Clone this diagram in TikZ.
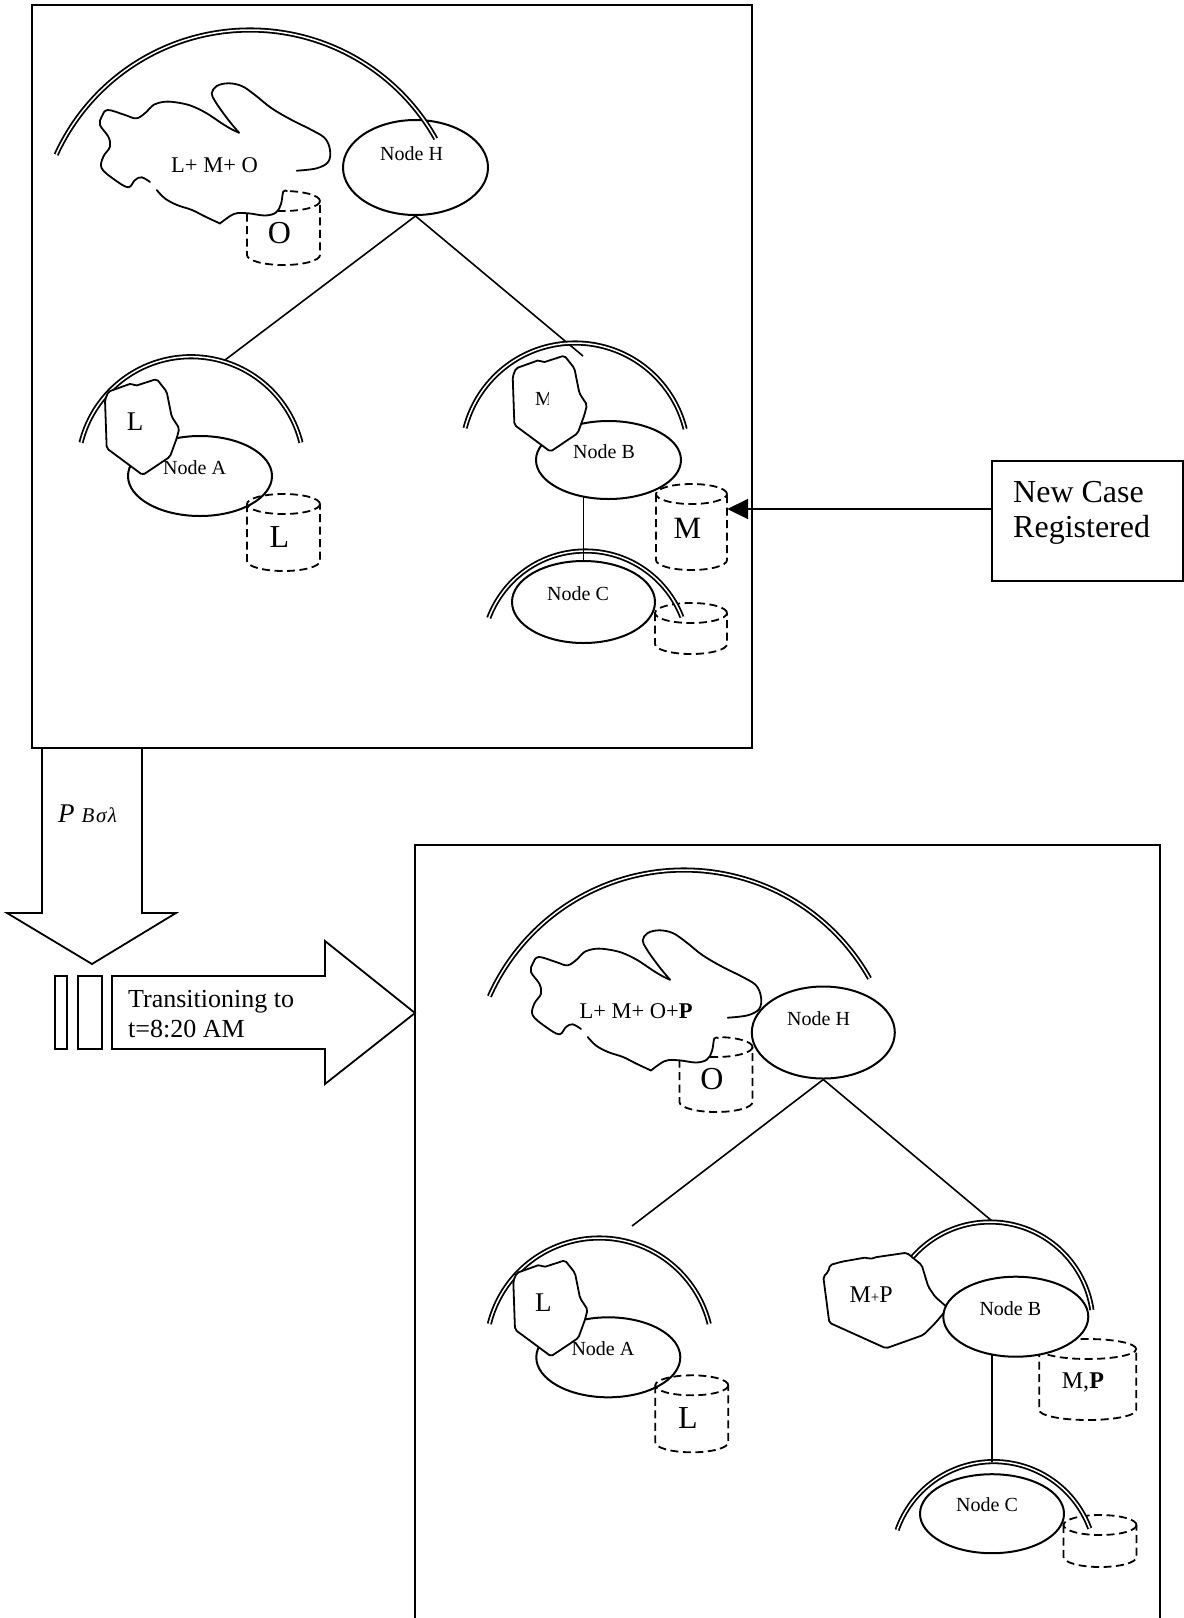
\documentclass[tikz,border=0pt]{standalone}
\usepackage{fontspec}
\setmainfont{Liberation Serif}
\usetikzlibrary{shapes.geometric,arrows.meta}

\tikzset{
  panel/.style={line width=2pt},
  hood/.style={double, line width=1.8pt, double distance=1.5pt},
  tree/.style={line width=1.6pt},
  member/.style={ellipse, draw, fill=white, line width=2pt, inner sep=0pt},
  blob/.style={draw, fill=white, line width=1.8pt, line join=round, rounded corners=2pt},
  cloudline/.style={line width=1.8pt, line join=round, line cap=round},
  cylline/.style={line width=1.8pt, dash pattern=on 8pt off 4.5pt},
  cylbox/.style={inner sep=0pt, draw=none},
  nm/.style={font=\fontsize{20}{24}\selectfont, inner sep=0pt, anchor=base west},
  big/.style={font=\fontsize{32}{36}\selectfont, inner sep=0pt},
  txt/.style={inner sep=0pt, anchor=base west},
}

% double "hood" arc over a member group: centre x, centre y, radius, from, to
\newcommand\hoodarc[5]{\draw[hood] plot[domain=#4:#5, samples=100, variable=\t] ({#1+#3*cos(\t)},{#2-#3*sin(\t)});}

% dashed store cylinder: name, centre x, top y, width, height
\newcommand\dbcyl[5]{%
  \node[cylbox, minimum width=#4pt, minimum height=#5pt] (#1) at (#2,{#3+#5/2}) {};
  \draw[cylline] ({#2-#4/2},{#3+10}) -- ({#2-#4/2},{#3+#5-10})
     arc[start angle=180, end angle=360, x radius=#4*0.5pt, y radius=10pt] -- ({#2+#4/2},{#3+10});
  \draw[cylline] (#2,{#3+10}) ellipse[x radius=#4*0.5pt, y radius=10pt];
}

% irregular knowledge cloud (open outline with small gaps)
\newcommand\cloudoutline{%
  \fill[white] (150,182) -- (141.7,177.3) -- (135,180) -- (128.3,187.3) -- (115,180) -- (101.7,168.3)
    -- (103.3,156.7) -- (110,146.7) -- (108.3,136.7) -- (100,125) -- (101.7,116.7) -- (107.7,110)
    -- (125,115) -- (136.7,118.3) -- (146.7,111.7) -- (153.3,105) -- (165,101.7) -- (178.3,102.7)
    -- (191.7,106) -- (206.7,113.3) -- (221.7,123.3) -- (231.7,129.3) -- (239,132.7)
    -- (230,122) -- (221,110) -- (215,101) -- (211.7,93.3) -- (216.7,86) -- (228.3,83.3) -- (241.7,86)
    -- (255,95) -- (271.7,108.3) -- (291.7,120) -- (311.7,130) -- (325,138.3) -- (330,150)
    -- (328.3,161.7) -- (316.7,168.3) -- (296.7,170.7) -- (287,191) -- (283.3,191.5) -- (281,204)
    -- (276,212.5) -- (265,215.5) -- (248,213.3) -- (234,214) -- (220,223.5) -- (205,216.5)
    -- (192,210) -- (177,205) -- (165,198.5) -- (156.7,190) -- cycle;
  \draw[cloudline] plot[smooth, tension=0.6] coordinates {(150,182) (141.7,177.3) (135,180) (128.3,187.3)
    (115,180) (101.7,168.3) (103.3,156.7) (110,146.7) (108.3,136.7) (100,125) (101.7,116.7) (107.7,110)
    (125,115) (136.7,118.3) (146.7,111.7) (153.3,105) (165,101.7) (178.3,102.7) (191.7,106)
    (206.7,113.3) (221.7,123.3) (231.7,129.3) (239,132.7)};
  \draw[cloudline] plot[smooth, tension=0.6] coordinates {(239,132.7) (230,122) (221,110) (215,101)
    (211.7,93.3) (216.7,86) (228.3,83.3) (241.7,86) (255,95) (271.7,108.3) (291.7,120) (311.7,130)
    (325,138.3) (330,150) (328.3,161.7) (316.7,168.3) (296.7,170.7)};
  \draw[cloudline] plot[smooth, tension=0.6] coordinates {(156.7,190) (165,198.5) (177,205) (192,210)
    (205,216.5) (220,223.5)};
  \draw[cloudline] plot[smooth, tension=0.6] coordinates {(220,223.5) (234,214) (248,213.3)
    (265,215.5) (276,212.5) (281,204) (283.3,191.5) (287,191)};
}

% small member blob
\newcommand\hexblob{\draw[blob] (108.3,391.7) -- (131.7,383.3) -- (135,386) -- (156.7,379) -- (166.7,391.7)
  -- (171.7,416.7) -- (179.3,428.3) -- (176.7,438.3) -- (170,456.7) -- (142.7,475) -- (106.7,448.3)
  -- (105,400) -- cycle;}

% Node A with its hood, blob and store
\newcommand\agroup[1]{%
  \hoodarc{191}{470}{113.3}{14}{166}
  \node[member, minimum width=144pt, minimum height=80pt] (A#1) at (200,476) {};
  \hexblob
  \node[txt, font=\fontsize{27}{30}\selectfont] (Ablob#1) at (126.7,430) {L};
  \node[nm] (Alabel#1) at (163,474) {Node A};
  \dbcyl{cylL#1}{283.5}{494}{73}{77}
  \node[big, anchor=base] (cylLtxt#1) at (279.5,547) {L};
}

\begin{document}
\begin{tikzpicture}[x=1pt, y=-1pt]
\useasboundingbox (0,0) rectangle (1184,1618);
\clip (0,0) rectangle (1184,1618);

% ---------- frames and transition arrows ----------
\draw[panel] (32,5) rectangle (752,748);
\draw[panel] (415,1640) -- (415,845) -- (1160,845) -- (1160,1640);

\draw[panel, line width=1.8pt] (42,748) -- (42,913) -- (7,913) -- (92,964) -- (176,913) -- (142,913) -- (142,748);
\node[txt, font=\fontsize{27}{30}\selectfont\itshape] (prob) at (58,822)
  {P\hspace{7pt}{\fontsize{21}{24}\selectfont B\hspace{1.5pt}σ\hspace{1.5pt}λ}};

\draw[line width=1.8pt] (55,976) rectangle (67,1049);
\draw[line width=1.8pt] (78,976) rectangle (102,1049);
\draw[line width=1.8pt] (112,976) -- (325,976) -- (325,941) -- (415,1013) -- (325,1084) -- (325,1049) -- (112,1049) -- cycle;
\node[txt, font=\fontsize{26}{30}\selectfont] (trans1) at (128,1007) {Transitioning to};
\node[txt, font=\fontsize{26}{30}\selectfont] (trans2) at (128,1037) {t=8:20 AM};

% ---------- new case event ----------
\node[draw, line width=2pt, minimum width=191pt, minimum height=120pt, inner sep=0pt] (NCR) at (1087.5,521) {};
\node[txt, font=\fontsize{32}{35}\selectfont] (ncr1) at (1013,502) {New Case};
\node[txt, font=\fontsize{32}{35}\selectfont] (ncr2) at (1013,537) {Registered};

% ================= upper state =================
\dbcyl{cylO1}{283.5}{191}{73}{74}
\node[big, anchor=base] (cylOtxt1) at (279.5,243) {O};
\cloudoutline
\node[txt, font=\fontsize{22.5}{26}\selectfont] (cloudtxt1) at (171,172) {L+ M+ O};
\node[member, minimum width=145pt, minimum height=95pt] (H1) at (415.5,167.5) {};
\node[nm] (Hlabel1) at (380,160) {Node H};
\hoodarc{250}{243}{213}{29.3}{155.5}

\coordinate (A1top) at (225,360);
\coordinate (B1top) at (583,356);
\draw[tree] (H1.south) -- (A1top);
\draw[tree] (H1.south) -- (B1top);

\agroup{1}

% Node B
\dbcyl{cylM}{691.5}{484}{71}{86}
\node[big, anchor=base, font=\fontsize{31}{34}\selectfont] (cylMtxt) at (687.5,538) {M};
\hoodarc{575}{456.5}{113.5}{14}{165.5}
\node[member, minimum width=145pt, minimum height=78pt] (B1) at (608.5,460) {};
\begin{scope}[shift={(407.7,-23.4)}]
  \hexblob
\end{scope}
\begin{scope}
  \clip (520,380) rectangle (548.7,420);
  \node[txt, font=\fontsize{20}{24}\selectfont] (Bblob1) at (535,405) {M};
\end{scope}
\node[nm] (Blabel1) at (573,458) {Node B};

% Node C
\dbcyl{cylC1}{691}{603}{72}{51}
\hoodarc{585.5}{654.3}{103.3}{21.1}{159.4}
\node[member, minimum width=143pt, minimum height=82pt] (C1) at (583.5,602) {};
\node[nm] (Clabel1) at (547,600) {Node C};
\draw[tree] (C1.north) -- ([yshift=3pt]C1.north |- B1.south);

% event into Node B's store
\coordinate (ncrin) at ([yshift=12pt]NCR.west);
\draw[line width=1.8pt, -{Triangle[length=21pt, width=20pt]}] (ncrin) -- (ncrin -| cylM.east);

% ================= lower state =================
\dbcyl{cylO2}{716}{1037}{73}{75}
\node[big, anchor=base] (cylOtxt2) at (712,1089) {O};
\begin{scope}[shift={(431,847)}]
  \cloudoutline
\end{scope}
\node[txt, font=\fontsize{22.5}{26}\selectfont] (cloudtxt2) at (579.3,1018.3) {L+ M+ O+\textbf{P}};
\node[member, minimum width=143pt, minimum height=92pt] (H2) at (823.3,1032.5) {};
\node[nm] (Hlabel2) at (787,1025) {Node H};
\hoodarc{684}{1083}{213}{29.4}{156}

\coordinate (A2top) at (632,1226);
\coordinate (B2top) at (992,1221);
\draw[tree] (H2.south) -- (A2top);
\draw[tree] (H2.south) -- (B2top);

\begin{scope}[shift={(408.3,881.3)}]
  \agroup{2}
\end{scope}

% Node B with the new case P
\dbcyl{cylMP}{1087.7}{1339}{97}{81}
\node[txt, font=\fontsize{24}{28}\selectfont] (cylMPtxt) at (1061.7,1388.3) {M,\textbf{P}};
\hoodarc{990}{1325}{103}{8.4}{150}
\draw[blob] (830,1265) -- (841.7,1261.7) -- (866.7,1257.3) -- (870,1259.3) -- (875,1257.3) -- (906.7,1252.7)
  -- (921.7,1265) -- (928.3,1286.7) -- (935,1296.7) -- (948,1308) -- (935,1323.3) -- (923.3,1335)
  -- (886,1348.3) -- (829.3,1322.7) -- (823.3,1276.7) -- (828.3,1271.7) -- cycle;
\node[txt, font=\fontsize{24}{28}\selectfont] (Bblob2) at (849.3,1302.7) {M{\fontsize{15}{18}\selectfont+}P};
\node[member, minimum width=145pt, minimum height=80pt] (B2) at (1015.8,1316.7) {};
\node[nm] (Blabel2) at (979.3,1315) {Node B};

% Node C
\dbcyl{cylC2}{1100}{1515}{73}{52}
\hoodarc{993.7}{1564}{102.4}{20.3}{160.6}
\node[member, minimum width=144pt, minimum height=79pt] (C2) at (992,1513.7) {};
\node[nm] (Clabel2) at (956,1511.7) {Node C};
\coordinate (C2top) at (992,1462);
\draw[tree] (C2top) -- ([yshift=3pt]C2top |- B2.south);
\end{tikzpicture}
\end{document}
